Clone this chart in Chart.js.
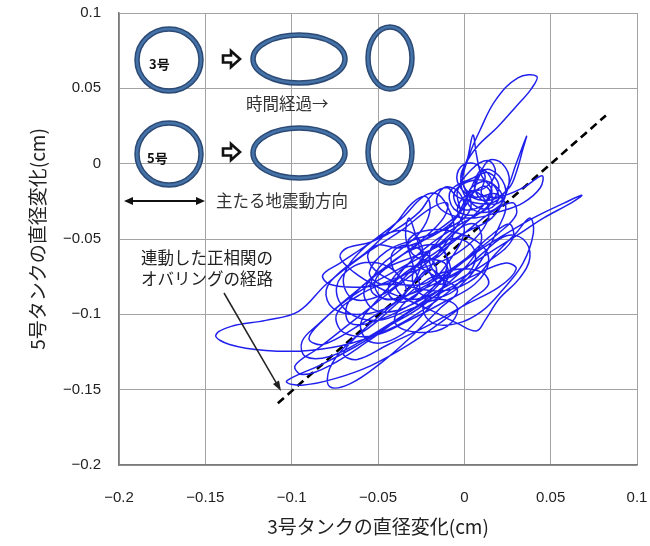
<!DOCTYPE html>
<html>
<head>
<meta charset="utf-8">
<script src="https://cdn.jsdelivr.net/npm/chart.js@4"></script>
<style>
  html, body { margin: 0; padding: 0; background: #fff; }
  #wrap { width: 650px; height: 546px; }
</style>
</head>
<body>
<div id="wrap"><canvas id="c" width="650" height="546"></canvas></div>
<script>
// Axis ticks and titles
const tickValues = [-0.2, -0.15, -0.1, -0.05, 0, 0.05, 0.1];
const xTitle = '3号タンクの直径変化(cm)';
const yTitle = '5号タンクの直径変化(cm)';

// Correlation line (No.3 change, No.5 change)
const trendX = [-0.108, 0.082];
const trendY = [-0.159, 0.032];

// Diameter-change orbit: [No.3 tank (cm), No.5 tank (cm)]
const orbit = [
  [0.002,-0.022],[0.012,-0.015],[0.016,-0.025],[0.006,-0.034],[-0.006,-0.030],[-0.008,-0.018],
  [0.004,-0.010],[0.014,-0.006],[0.020,-0.016],[0.012,-0.030],[-0.002,-0.040],
  [-0.018,-0.052],[-0.032,-0.066],[-0.040,-0.080],[-0.032,-0.090],[-0.018,-0.084],[-0.010,-0.068],
  [-0.014,-0.055],[-0.028,-0.056],[-0.045,-0.068],[-0.058,-0.084],[-0.052,-0.097],[-0.035,-0.096],
  [-0.018,-0.082],[0.000,-0.064],[0.015,-0.048],[0.026,-0.040],[0.028,-0.050],[0.015,-0.064],
  [-0.005,-0.078],[-0.028,-0.092],[-0.050,-0.104],[-0.066,-0.106],[-0.068,-0.094],[-0.056,-0.078],
  [-0.040,-0.064],[-0.024,-0.050],[-0.012,-0.036],[-0.010,-0.026],[-0.020,-0.030],[-0.036,-0.044],
  [-0.060,-0.062],[-0.080,-0.080],[-0.096,-0.098],[-0.115,-0.104],[-0.135,-0.108],[-0.144,-0.114],
  [-0.136,-0.120],[-0.115,-0.124],[-0.090,-0.124],[-0.065,-0.119],[-0.040,-0.108],[-0.020,-0.094],
  [-0.004,-0.080],[0.006,-0.066],[0.004,-0.054],[-0.008,-0.050],[-0.022,-0.060],[-0.030,-0.074],
  [-0.026,-0.086],[-0.012,-0.088],[0.002,-0.076],[0.012,-0.060],[0.020,-0.042],[0.024,-0.028],
  [0.018,-0.020],[0.006,-0.022],
  [-0.002,-0.010],[0.002,0.004],[0.005,0.019],[0.007,0.006],[0.010,-0.008],[0.016,-0.018],
  [0.010,-0.028],[-0.002,-0.030],[-0.006,-0.020],[0.002,-0.012],[0.014,-0.012],[0.022,-0.022],
  [0.016,-0.036],[0.000,-0.046],[-0.018,-0.060],[-0.036,-0.074],[-0.050,-0.090],[-0.060,-0.106],
  [-0.055,-0.118],[-0.040,-0.116],[-0.024,-0.100],[-0.012,-0.082],[-0.010,-0.068],[-0.020,-0.064],
  [-0.035,-0.074],[-0.048,-0.080],[-0.055,-0.072],[-0.045,-0.058],[-0.028,-0.050],[-0.012,-0.044],
  [0.000,-0.036],[0.004,-0.026],
  [-0.001,-0.012],[0.003,0.006],[0.009,0.022],[0.018,0.042],[0.031,0.057],[0.042,0.058],
  [0.039,0.050],[0.030,0.038],[0.019,0.024],[0.008,0.012],[0.001,0.000],[-0.002,-0.014],
  [0.004,-0.026],[0.014,-0.030],[0.020,-0.022],[0.014,-0.012],[0.004,-0.016],[0.000,-0.028],
  [-0.008,-0.040],[-0.022,-0.050],[-0.038,-0.056],[-0.050,-0.054],[-0.056,-0.062],[-0.048,-0.074],
  [-0.030,-0.082],[-0.010,-0.084],[0.006,-0.076],[0.018,-0.060],[0.030,-0.046],[0.038,-0.036],
  [0.040,-0.046],[0.034,-0.066],[0.022,-0.084],[0.010,-0.098],[-0.004,-0.106],[-0.018,-0.106],
  [-0.024,-0.096],[-0.018,-0.082],[-0.006,-0.070],[0.008,-0.058],
  [0.022,-0.048],[0.040,-0.036],[0.058,-0.026],[0.068,-0.021],[0.062,-0.026],[0.046,-0.036],
  [0.030,-0.048],[0.016,-0.058],[0.002,-0.068],[-0.014,-0.078],[-0.030,-0.086],[-0.044,-0.090],
  [-0.054,-0.084],[-0.050,-0.070],[-0.038,-0.058],[-0.026,-0.046],[-0.020,-0.032],[-0.022,-0.022],
  [-0.030,-0.026],[-0.040,-0.040],[-0.056,-0.058],[-0.072,-0.072],[-0.080,-0.084],[-0.076,-0.096],
  [-0.060,-0.100],[-0.042,-0.094],[-0.030,-0.080],
  [-0.020,-0.070],[-0.012,-0.080],[-0.024,-0.094],[-0.044,-0.108],[-0.064,-0.122],[-0.084,-0.134],
  [-0.098,-0.141],[-0.103,-0.145],[-0.094,-0.147],[-0.076,-0.143],[-0.054,-0.134],[-0.032,-0.120],
  [-0.012,-0.104],[0.004,-0.090],[0.014,-0.080],[0.010,-0.072],[-0.004,-0.070],[-0.020,-0.076],
  [-0.036,-0.090],[-0.052,-0.106],[-0.068,-0.120],[-0.078,-0.136],[-0.078,-0.148],[-0.066,-0.146],
  [-0.048,-0.132],[-0.030,-0.114],[-0.014,-0.096],[-0.004,-0.084],
  [-0.018,-0.074],[-0.030,-0.068],[-0.040,-0.074],[-0.044,-0.086],[-0.036,-0.092],[-0.026,-0.084],
  [-0.030,-0.066],[-0.034,-0.048],[-0.032,-0.036],[-0.028,-0.048],[-0.022,-0.068],[-0.014,-0.080],
  [-0.008,-0.072],[-0.012,-0.058],[-0.018,-0.054],[-0.020,-0.066],[-0.012,-0.076],[0.000,-0.070],
  [0.012,-0.058],
  [0.024,-0.048],[0.034,-0.050],[0.038,-0.062],[0.032,-0.076],[0.020,-0.090],[0.012,-0.104],
  [0.007,-0.111],[-0.004,-0.106],[-0.018,-0.098],[-0.034,-0.090],[-0.050,-0.082],[-0.064,-0.072],
  [-0.072,-0.062],[-0.068,-0.056],[-0.054,-0.052],[-0.040,-0.044],[-0.026,-0.032],[-0.018,-0.020],
  [-0.010,-0.016],[-0.004,-0.022],
  [0.006,-0.026],[0.016,-0.026],[0.024,-0.018],[0.030,0.000],[0.036,0.018],[0.034,0.010],
  [0.030,-0.006],[0.026,-0.016],[0.016,-0.024],[0.004,-0.022],[-0.004,-0.012],[-0.002,-0.002],
  [0.006,0.000],[0.012,-0.008],[0.010,-0.020],
  [0.020,-0.022],[0.034,-0.016],[0.045,-0.008],[0.044,-0.016],[0.034,-0.026],[0.020,-0.032],
  [0.006,-0.036],[-0.008,-0.034],[-0.016,-0.026],[-0.012,-0.016],[-0.004,-0.018],[0.000,-0.030],
  [-0.006,-0.044],[-0.020,-0.058],[-0.038,-0.070],[-0.054,-0.080],[-0.070,-0.092],[-0.084,-0.106],
  [-0.094,-0.118],[-0.092,-0.128],[-0.078,-0.128],[-0.060,-0.118],[-0.040,-0.104],[-0.022,-0.090],
  [-0.008,-0.078],[0.004,-0.064],[0.010,-0.050],[0.006,-0.040],[-0.004,-0.044],[-0.014,-0.058],
  [-0.022,-0.072],[-0.030,-0.078],[-0.040,-0.072],[-0.042,-0.060],[-0.034,-0.054],[-0.022,-0.060],
  [-0.016,-0.072],[-0.024,-0.080],
  [-0.044,-0.080],[-0.062,-0.082],[-0.078,-0.080],[-0.082,-0.074],[-0.072,-0.066],[-0.054,-0.052],
  [-0.036,-0.036],[-0.024,-0.022],[-0.016,-0.020],[-0.010,-0.028],[-0.006,-0.042],[-0.010,-0.056],
  [-0.020,-0.064],[-0.030,-0.060],[-0.032,-0.050],[-0.020,-0.044],[-0.004,-0.046],[0.010,-0.054],
  [0.014,-0.066],[0.006,-0.080],[-0.012,-0.092],[-0.032,-0.104],[-0.052,-0.114],[-0.070,-0.112],
  [-0.074,-0.100],[-0.062,-0.088],[-0.044,-0.078],[-0.026,-0.070],[-0.008,-0.062],[0.006,-0.050],
  [0.014,-0.036],[0.012,-0.024],[0.004,-0.018],[0.002,-0.026],
  [0.008,-0.032],[0.018,-0.030],[0.024,-0.020],[0.020,-0.008],[0.012,-0.004],[0.006,-0.014],
  [0.010,-0.024],[0.020,-0.026],[0.026,-0.012],[0.022,0.000],[0.014,0.002],[0.008,-0.010],
  [0.004,-0.022],
  [-0.004,-0.034],[-0.020,-0.048],[-0.040,-0.064],[-0.062,-0.084],[-0.082,-0.104],[-0.090,-0.116],
  [-0.082,-0.120],[-0.062,-0.108],[-0.040,-0.092],[-0.018,-0.078],[0.002,-0.062],[0.020,-0.046],
  [0.030,-0.034],[0.028,-0.026],[0.016,-0.032],[-0.002,-0.048],[-0.022,-0.066],[-0.044,-0.086],
  [-0.064,-0.104],[-0.084,-0.122],[-0.098,-0.134],[-0.094,-0.140],[-0.078,-0.134],[-0.056,-0.118],
  [-0.034,-0.100],[-0.014,-0.086],[0.006,-0.074],[0.024,-0.066],[0.030,-0.070],[0.020,-0.082],
  [0.000,-0.094],[-0.022,-0.108],[-0.044,-0.120],[-0.062,-0.130],[-0.070,-0.126],[-0.060,-0.112],
  [-0.044,-0.096],[-0.030,-0.080],[-0.024,-0.060],[-0.030,-0.046],[-0.044,-0.046],[-0.060,-0.058],
  [-0.070,-0.076],[-0.064,-0.090],[-0.046,-0.086],[-0.030,-0.070],[-0.014,-0.050],[-0.004,-0.034],
  [0.004,-0.016],[0.010,-0.004],[0.016,-0.012],[0.012,-0.026],
  [0.000,-0.040],[-0.014,-0.054],[-0.030,-0.062],[-0.046,-0.070],[-0.052,-0.080],[-0.046,-0.090],
  [-0.034,-0.086],[-0.038,-0.074],[-0.050,-0.066],[-0.064,-0.068],[-0.074,-0.082],[-0.068,-0.098],
  [-0.050,-0.104],[-0.030,-0.096],[-0.014,-0.090],[-0.004,-0.096],[-0.010,-0.108],[-0.026,-0.112],
  [-0.040,-0.106],[-0.036,-0.094],[-0.020,-0.080],[-0.006,-0.060],[0.000,-0.044],[-0.004,-0.030],
  [0.002,-0.020],[0.012,-0.016],[0.018,-0.006],[0.014,0.002],[0.004,-0.004],[-0.004,-0.018],
  [-0.002,-0.032]
];

const JP = '"Noto Sans CJK JP", "Noto Sans CJK SC", sans-serif';
const NUM = '"Liberation Sans", Arial, sans-serif';

// Ring pictures, arrows and explanatory labels in the upper-left of the plot
const sketchPlugin = {
  id: 'ovalSketch',
  afterDatasetsDraw(chart) {
    const ctx = chart.ctx;
    ctx.save();

    const ring = (cx, cy, rx, ry) => {
      ctx.beginPath();
      ctx.ellipse(cx, cy, rx, ry, 0, 0, Math.PI * 2);
      ctx.lineWidth = 5.5; ctx.strokeStyle = '#2c4a75'; ctx.stroke();
      ctx.lineWidth = 2.5; ctx.strokeStyle = '#4573a8'; ctx.stroke();
    };
    const blockArrow = (x, y) => {
      ctx.beginPath();
      ctx.moveTo(x, y - 3.5); ctx.lineTo(x + 8, y - 3.5); ctx.lineTo(x + 8, y - 8);
      ctx.lineTo(x + 17, y); ctx.lineTo(x + 8, y + 8); ctx.lineTo(x + 8, y + 3.5);
      ctx.lineTo(x, y + 3.5); ctx.closePath();
      ctx.fillStyle = '#fff'; ctx.fill();
      ctx.lineWidth = 2.6; ctx.strokeStyle = '#111'; ctx.lineJoin = 'miter'; ctx.stroke();
    };
    const head = (x, y, ang, len, half) => {
      ctx.beginPath();
      ctx.moveTo(x, y);
      ctx.lineTo(x - len * Math.cos(ang) + half * Math.sin(ang), y - len * Math.sin(ang) - half * Math.cos(ang));
      ctx.lineTo(x - len * Math.cos(ang) - half * Math.sin(ang), y - len * Math.sin(ang) + half * Math.cos(ang));
      ctx.closePath();
      ctx.fill();
    };

    // No.3 tank row
    ring(169, 60, 32, 31);
    ring(299, 59, 46, 24);
    ring(390, 58, 22, 31);
    blockArrow(223, 59);
    // No.5 tank row
    ring(169, 154, 32, 31);
    ring(299, 153, 46, 25);
    ring(390, 152, 22, 31);
    blockArrow(223, 152);

    ctx.fillStyle = '#111';
    ctx.textBaseline = 'middle';
    ctx.textAlign = 'left';
    ctx.font = 'bold 13px ' + JP;
    ctx.fillText('3号', 149, 64);
    ctx.fillText('5号', 147, 158);

    ctx.fillStyle = '#333';
    ctx.font = '16.5px ' + JP;
    ctx.fillText('時間経過→', 246, 104);
    ctx.fillText('主たる地震動方向', 216, 201);

    // main shaking direction: double-headed arrow
    ctx.strokeStyle = '#111'; ctx.fillStyle = '#111'; ctx.lineWidth = 2;
    ctx.beginPath(); ctx.moveTo(130, 201); ctx.lineTo(199, 201); ctx.stroke();
    head(205, 201, 0, 9, 4);
    head(124, 201, Math.PI, 9, 4);

    ctx.fillStyle = '#222';
    ctx.font = '16.5px ' + JP;
    ctx.fillText('連動した正相関の', 141, 258);
    ctx.fillText('オバリングの経路', 141, 279);

    // pointer to the correlation line
    const x0 = 224, y0 = 293, x1 = 281, y1 = 391;
    const ang = Math.atan2(y1 - y0, x1 - x0);
    ctx.strokeStyle = '#222'; ctx.lineWidth = 1.5;
    ctx.beginPath(); ctx.moveTo(x0, y0); ctx.lineTo(x1 - 8 * Math.cos(ang), y1 - 8 * Math.sin(ang)); ctx.stroke();
    ctx.fillStyle = '#222';
    head(x1, y1, ang, 10, 3.5);

    ctx.restore();
  }
};

const fmt = v => {
  const s = String(parseFloat(Number(v).toFixed(2)));
  return s.replace('-', '\u2212');
};

const noPad = s => { s.paddingLeft = 0; s.paddingRight = 0; s.paddingTop = 0; s.paddingBottom = 0; };

new Chart(document.getElementById('c'), {
  type: 'scatter',
  data: {
    datasets: [
      {
        data: orbit.map(p => ({ x: p[0], y: p[1] })),
        showLine: true,
        borderColor: '#2020ee',
        borderWidth: 1.5,
        pointRadius: 0,
        tension: 0.38,
        fill: false
      },
      {
        data: trendX.map((x, i) => ({ x, y: trendY[i] })),
        showLine: true,
        borderColor: '#000',
        borderWidth: 2.6,
        borderDash: [8, 5],
        pointRadius: 0,
        fill: false
      }
    ]
  },
  options: {
    responsive: false,
    animation: false,
    layout: { padding: { top: 13, right: 13, left: 0, bottom: 0 } },
    plugins: { legend: { display: false }, tooltip: { enabled: false } },
    scales: {
      x: {
        type: 'linear', min: -0.2, max: 0.1,
        afterBuildTicks: s => { s.ticks = tickValues.map(v => ({ value: v })); },
        afterFit: s => { s.height = 81; noPad(s); },
        grid: { color: '#a3a3a3', lineWidth: 1, drawTicks: false },
        border: { color: '#7a7a7a', width: 1.5 },
        ticks: { padding: 24, color: '#222', font: { family: NUM, size: 15 }, callback: fmt, maxRotation: 0 },
        title: { display: true, text: xTitle, color: '#222', font: { family: JP, size: 19, lineHeight: 1 }, padding: { top: 0, bottom: 10 } }
      },
      y: {
        type: 'linear', min: -0.2, max: 0.1,
        afterBuildTicks: s => { s.ticks = tickValues.map(v => ({ value: v })); },
        afterFit: s => { s.width = 119; noPad(s); },
        grid: { color: '#a3a3a3', lineWidth: 1, drawTicks: false },
        border: { color: '#7a7a7a', width: 1.5 },
        ticks: { padding: 18, color: '#222', font: { family: NUM, size: 15 }, callback: fmt },
        title: { display: true, text: yTitle, color: '#222', font: { family: JP, size: 19, lineHeight: 1 }, padding: { top: 28, bottom: 0 } }
      }
    }
  },
  plugins: [sketchPlugin]
});
</script>
</body>
</html>
